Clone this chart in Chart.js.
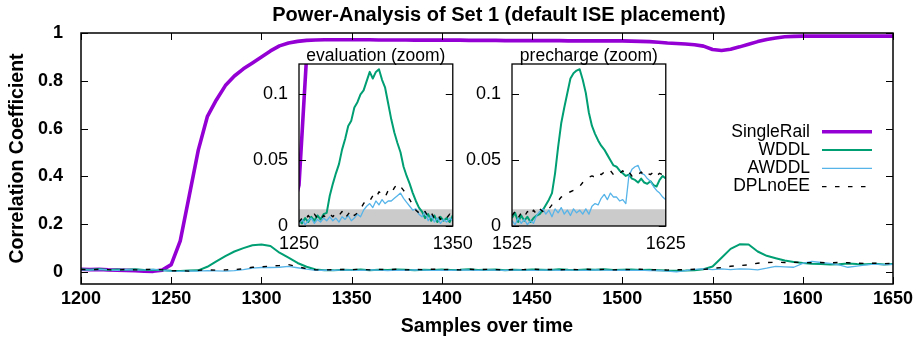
<!DOCTYPE html>
<html><head><meta charset="utf-8">
<script src="https://cdn.jsdelivr.net/npm/chart.js@4/dist/chart.umd.min.js"></script>
<style>
html,body{margin:0;padding:0;background:#fff;}
#wrap{position:relative;width:918px;height:346px;overflow:hidden;background:#fff;}
canvas{position:absolute;}
</style></head><body>
<div id="wrap">
<canvas id="mainC" width="918" height="346" style="left:0;top:0;width:918px;height:346px"></canvas>
<canvas id="evalC" width="250" height="220" style="left:230px;top:40px;width:250px;height:220px"></canvas>
<canvas id="preC" width="250" height="220" style="left:443px;top:40px;width:250px;height:220px"></canvas>
</div>
<script>
// ---------- texts ----------
const chartTitle = 'Power-Analysis of Set 1 (default ISE placement)';
const xAxisTitle = 'Samples over time';
const yAxisTitle = 'Correlation Coefficient';
const seriesNames = ['SingleRail', 'WDDL', 'AWDDL', 'DPLnoEE'];
const evalTitle = 'evaluation (zoom)';
const preTitle = 'precharge (zoom)';

// ---------- axes ----------
const mainXRange = [1200, 1650];
const mainYRange = [-0.05, 1];
const mainXTicks = [1200, 1250, 1300, 1350, 1400, 1450, 1500, 1550, 1600, 1650];
const mainYTicks = [0, 0.2, 0.4, 0.6, 0.8, 1];
const insetYRange = [0, 0.123];
const insetYTicks = [0, 0.05, 0.1];
const evalXRange = [1250, 1350];
const preXRange = [1525, 1625];
const noiseLevel = 0.0127;

// ---------- main series (samples 1200..1650, every 5) ----------
const mainStart = 1200, mainStep = 5;
const singleRail = [
 0.012,0.010,0.011,0.009,0.008,0.007,0.006,0.004,0.003,0.008,
 0.031,0.13,0.32,0.51,0.65,0.72,0.78,0.82,0.85,0.875,
 0.90,0.925,0.946,0.958,0.965,0.969,0.971,0.972,0.972,0.972,
 0.972,0.972,0.972,0.971,0.971,0.971,0.971,0.970,0.970,0.970,
 0.970,0.970,0.970,0.969,0.969,0.969,0.969,0.968,0.968,0.968,
 0.968,0.968,0.968,0.968,0.967,0.967,0.967,0.967,0.967,0.967,
 0.967,0.966,0.965,0.964,0.961,0.958,0.956,0.954,0.951,0.945,
 0.931,0.927,0.932,0.942,0.953,0.964,0.973,0.979,0.984,0.986,
 0.987,0.987,0.987,0.987,0.987,0.987,0.987,0.987,0.987,0.987,0.987];
const wddl = [
 0.012,0.010,0.013,0.009,0.011,0.010,0.012,0.009,0.010,0.008,
 0.005,0.004,0.006,0.007,0.022,0.045,0.067,0.086,0.100,0.112,
 0.115,0.109,0.081,0.060,0.038,0.022,0.011,0.008,0.007,0.010,
 0.009,0.011,0.008,0.010,0.009,0.011,0.010,0.008,0.010,0.009,
 0.011,0.009,0.010,0.012,0.009,0.010,0.011,0.008,0.010,0.009,
 0.011,0.010,0.009,0.012,0.010,0.009,0.011,0.010,0.012,0.009,
 0.010,0.011,0.009,0.010,0.008,0.006,0.005,0.006,0.008,0.012,
 0.023,0.060,0.097,0.116,0.115,0.086,0.068,0.058,0.048,0.042,
 0.038,0.035,0.034,0.032,0.033,0.036,0.034,0.033,0.035,0.032,0.034];
const awddl = [
 0.010,0.008,0.011,0.009,0.007,0.010,0.008,0.009,0.011,0.007,
 0.004,0.003,0.005,0.004,0.006,0.005,0.004,0.006,0.010,0.016,
 0.019,0.019,0.020,0.024,0.018,0.012,0.007,0.008,0.007,0.009,
 0.008,0.007,0.009,0.008,0.006,0.008,0.007,0.009,0.008,0.007,
 0.008,0.007,0.009,0.008,0.007,0.009,0.008,0.007,0.008,0.009,
 0.007,0.008,0.009,0.007,0.008,0.008,0.007,0.009,0.008,0.007,
 0.008,0.007,0.008,0.006,0.007,0.004,0.001,0.006,0.011,0.013,
 0.010,0.013,0.010,0.013,0.012,0.009,0.016,0.024,0.022,0.020,
 0.036,0.045,0.040,0.036,0.030,0.020,0.025,0.030,0.033,0.031,0.032];
const dplNoEE = [
 0.011,0.009,0.012,0.010,0.008,0.011,0.009,0.010,0.012,0.009,
 0.005,0.006,0.004,0.007,0.009,0.008,0.009,0.010,0.014,0.020,
 0.022,0.025,0.027,0.031,0.022,0.014,0.009,0.009,0.010,0.011,
 0.010,0.012,0.009,0.011,0.010,0.012,0.009,0.011,0.010,0.012,
 0.010,0.011,0.009,0.012,0.010,0.011,0.010,0.009,0.011,0.010,
 0.012,0.010,0.011,0.009,0.011,0.010,0.012,0.010,0.011,0.009,
 0.011,0.010,0.012,0.009,0.010,0.008,0.010,0.009,0.012,0.011,
 0.015,0.019,0.024,0.027,0.030,0.037,0.040,0.041,0.040,0.041,
 0.040,0.039,0.040,0.038,0.040,0.039,0.037,0.036,0.037,0.035,0.036];

// ---------- evaluation zoom (samples 1250..1350, every 2) ----------
const evalStart = 1250, insetStep = 2;
const evalWDDL = [
 0.004,0.002,0.006,0.003,0.007,0.004,0.008,0.005,0.009,0.010,
 0.023,0.032,0.040,0.047,0.058,0.066,0.076,0.080,0.090,0.094,
 0.100,0.103,0.110,0.117,0.112,0.117,0.119,0.111,0.105,0.093,
 0.081,0.071,0.063,0.056,0.045,0.038,0.032,0.025,0.019,0.014,
 0.011,0.006,0.009,0.004,0.008,0.003,0.007,0.004,0.006,0.003,0.008];
const evalAWDDL = [
 0.002,0.005,0.001,0.004,0.006,0.002,0.005,0.003,0.006,0.004,
 0.007,0.004,0.006,0.003,0.007,0.005,0.008,0.004,0.006,0.009,
 0.007,0.012,0.015,0.017,0.014,0.019,0.016,0.020,0.017,0.019,
 0.019,0.021,0.023,0.025,0.021,0.018,0.015,0.012,0.013,0.009,
 0.007,0.011,0.004,0.008,0.003,0.006,0.002,0.005,0.003,0.006,0.004];
const evalDPL = [
 0.003,0.006,0.004,0.008,0.005,0.009,0.006,0.004,0.008,0.006,
 0.009,0.007,0.010,0.008,0.011,0.006,0.009,0.012,0.008,0.010,
 0.013,0.017,0.020,0.019,0.023,0.021,0.026,0.024,0.022,0.027,
 0.025,0.029,0.032,0.030,0.027,0.024,0.020,0.016,0.012,0.010,
 0.008,0.011,0.007,0.010,0.006,0.009,0.005,0.008,0.006,0.009,0.007];

// ---------- precharge zoom (samples 1525..1625, every 2) ----------
const preStart = 1525;
const preWDDL = [
 0.006,0.010,0.003,0.008,0.004,0.007,0.003,0.006,0.008,0.009,
 0.012,0.016,0.020,0.025,0.040,0.060,0.078,0.090,0.101,0.112,
 0.116,0.118,0.119,0.111,0.101,0.086,0.076,0.070,0.065,0.061,
 0.058,0.054,0.050,0.046,0.045,0.042,0.040,0.038,0.039,0.036,
 0.035,0.033,0.036,0.033,0.032,0.034,0.031,0.030,0.035,0.038,0.036];
const preAWDDL = [
 0.004,0.001,0.006,0.002,0.005,0.001,0.004,0.002,0.008,0.011,
 0.013,0.009,0.012,0.007,0.013,0.010,0.014,0.009,0.012,0.008,
 0.013,0.010,0.012,0.009,0.013,0.009,0.015,0.017,0.016,0.021,
 0.024,0.020,0.025,0.022,0.022,0.019,0.020,0.017,0.038,0.043,
 0.045,0.046,0.040,0.039,0.036,0.034,0.030,0.027,0.025,0.022,0.020];
const preDPL = [
 0.008,0.011,0.006,0.010,0.007,0.011,0.008,0.012,0.009,0.013,
 0.011,0.014,0.013,0.016,0.017,0.019,0.022,0.023,0.025,0.026,
 0.027,0.029,0.030,0.033,0.035,0.037,0.038,0.037,0.040,0.039,
 0.041,0.040,0.042,0.039,0.041,0.040,0.042,0.039,0.041,0.038,
 0.040,0.039,0.041,0.038,0.040,0.039,0.041,0.038,0.040,0.039,0.041];

// ---------- styling ----------
const FONT = '"Liberation Sans", Arial, Helvetica, sans-serif';
Chart.defaults.font.family = FONT;
Chart.defaults.color = '#000';
const seriesStyle = [
  {color: '#9400d3', width: 3.6, dash: []},
  {color: '#009e73', width: 2.0, dash: []},
  {color: '#56b4e9', width: 1.3, dash: []},
  {color: '#000000', width: 1.4, dash: [4.5, 8.5]}
];

function xsFor(arr, start, step) { return arr.map((_, i) => start + step * i); }
function pts(xs, ys) { return ys.map((v, i) => ({x: xs[i], y: v})); }
function fmt(v) { return String(Math.round(v * 1000) / 1000); }

function lineDs(k, xs, ys, clip) {
  const s = seriesStyle[k];
  return {
    label: seriesNames[k], data: pts(xs, ys),
    borderColor: s.color, backgroundColor: s.color, borderWidth: s.width,
    borderDash: s.dash, pointRadius: 0, tension: 0, fill: false,
    borderJoinStyle: 'round', borderCapStyle: 'butt',
    order: 4 - k, clip: clip
  };
}

const framePlugin = {
  id: 'frame',
  beforeDraw(chart, args, o) {
    const a = chart.chartArea, ctx = chart.ctx;
    if (o.fill) { ctx.save(); ctx.fillStyle = o.fill; ctx.fillRect(a.left, a.top, a.right - a.left, a.bottom - a.top); ctx.restore(); }
  },
  afterDraw(chart, args, o) {
    const a = chart.chartArea, ctx = chart.ctx;
    const xs = chart.scales.x, ys = chart.scales.y;
    ctx.save();
    ctx.strokeStyle = '#000';
    ctx.lineWidth = 1;
    ctx.beginPath();
    (o.xTicks || []).forEach(v => {
      const p = Math.round(xs.getPixelForValue(v)) + 0.5;
      ctx.moveTo(p, a.bottom); ctx.lineTo(p, a.bottom - o.len);
      ctx.moveTo(p, a.top); ctx.lineTo(p, a.top + o.len);
    });
    (o.yTicks || []).forEach(v => {
      const p = Math.round(ys.getPixelForValue(v)) + 0.5;
      ctx.moveTo(a.left, p); ctx.lineTo(a.left + o.len, p);
      ctx.moveTo(a.right, p); ctx.lineTo(a.right - o.len, p);
    });
    ctx.stroke();
    ctx.lineWidth = o.borderWidth;
    ctx.strokeRect(a.left, a.top, a.right - a.left, a.bottom - a.top);
    if (o.title) {
      ctx.font = o.title.font; ctx.fillStyle = '#000';
      ctx.textAlign = 'center'; ctx.textBaseline = 'middle';
      const x = (a.left + a.right) / 2 + (o.title.dx || 0);
      ctx.fillText(o.title.text, x, a.top + o.title.dy);
    }
    ctx.restore();
  }
};

const legendPlugin = {
  id: 'sideLegend',
  afterDraw(chart, args, o) {
    const ctx = chart.ctx;
    ctx.save();
    chart.data.datasets.forEach((ds, i) => {
      const y = o.y + i * o.dy;
      ctx.font = o.font; ctx.fillStyle = '#000';
      ctx.textAlign = 'right'; ctx.textBaseline = 'middle';
      ctx.fillText(ds.label, o.textRight, y);
      ctx.strokeStyle = ds.borderColor; ctx.lineWidth = ds.borderWidth;
      ctx.setLineDash(ds.borderDash || []);
      ctx.beginPath(); ctx.moveTo(o.x1, y); ctx.lineTo(o.x2, y); ctx.stroke();
      ctx.setLineDash([]);
    });
    ctx.restore();
  }
};

const mainX = xsFor(singleRail, mainStart, mainStep);

// ---------- main chart ----------
new Chart(document.getElementById('mainC'), {
  type: 'line',
  data: { datasets: [
    lineDs(0, mainX, singleRail),
    lineDs(1, mainX, wddl),
    lineDs(2, mainX, awddl),
    lineDs(3, mainX, dplNoEE)
  ]},
  options: {
    responsive: false, animation: false, events: [],
    layout: { padding: {left: 0, right: 25, top: 33, bottom: 0} },
    plugins: {
      legend: {display: false}, tooltip: {enabled: false},
      frame: { xTicks: mainXTicks, yTicks: mainYTicks, len: 7, borderWidth: 1.5,
               title: {text: chartTitle, font: 'bold 20px ' + FONT, dy: -18, dx: 12} },
      sideLegend: { font: '17.5px ' + FONT, textRight: 810, x1: 822, x2: 872, y: 131.7, dy: 18.3 }
    },
    scales: {
      x: {
        type: 'linear', min: mainXRange[0], max: mainXRange[1],
        afterBuildTicks: s => { s.ticks = mainXTicks.map(v => ({value: v})); },
        afterFit: s => { s.height = 62; },
        ticks: { font: {size: 18, weight: 'bold'}, padding: 4.7, maxRotation: 0, autoSkip: false, callback: v => String(v) },
        grid: {display: false, drawTicks: false}, border: {display: false},
        title: { display: true, text: xAxisTitle, font: {size: 19.5, weight: 'bold'}, padding: {top: 0, bottom: 7.3} }
      },
      y: {
        type: 'linear', min: mainYRange[0], max: mainYRange[1],
        afterBuildTicks: s => { s.ticks = mainYTicks.map(v => ({value: v})); },
        afterFit: s => { s.width = 81; },
        ticks: { font: {size: 18, weight: 'bold'}, padding: 18, autoSkip: false, callback: v => fmt(v) },
        grid: {display: false, drawTicks: false}, border: {display: false},
        title: { display: true, text: yAxisTitle, font: {size: 19.5, weight: 'bold'}, padding: {top: 6.3, bottom: 0} }
      }
    }
  },
  plugins: [framePlugin, legendPlugin]
});

// ---------- inset charts ----------
function insetChart(id, xRange, xs, w, aw, dp, title, padRight) {
  const band = {
    label: '', data: [{x: xRange[0], y: noiseLevel}, {x: xRange[1], y: noiseLevel}],
    borderWidth: 0, pointRadius: 0, fill: 'origin', backgroundColor: '#cbcbcb',
    borderColor: 'rgba(0,0,0,0)', order: 10, clip: 0
  };
  return new Chart(document.getElementById(id), {
    type: 'line',
    data: { datasets: [
      lineDs(0, mainX, singleRail, 0),
      lineDs(1, xs, w, 0),
      lineDs(2, xs, aw, 0),
      lineDs(3, xs, dp, 0),
      band
    ]},
    options: {
      responsive: false, animation: false, events: [],
      layout: { padding: {left: 0, right: padRight, top: 24, bottom: 0} },
      plugins: {
        legend: {display: false}, tooltip: {enabled: false},
        frame: { fill: '#ffffff', xTicks: [], yTicks: insetYTicks, len: 7, borderWidth: 1.3,
                 title: {text: title, font: '17.5px ' + FONT, dy: -8} }
      },
      scales: {
        x: {
          type: 'linear', min: xRange[0], max: xRange[1],
          afterBuildTicks: s => { s.ticks = xRange.map(v => ({value: v})); },
          afterFit: s => { s.height = 34; },
          ticks: { font: {size: 18}, padding: 7.2, maxRotation: 0, autoSkip: false, callback: v => String(v) },
          grid: {display: false, drawTicks: false}, border: {display: false}
        },
        y: {
          type: 'linear', min: insetYRange[0], max: insetYRange[1],
          afterBuildTicks: s => { s.ticks = insetYTicks.map(v => ({value: v})); },
          afterFit: s => { s.width = 69; },
          ticks: { font: {size: 18}, padding: 11, autoSkip: false, callback: v => fmt(v) },
          grid: {display: false, drawTicks: false}, border: {display: false}
        }
      }
    },
    plugins: [framePlugin]
  });
}

insetChart('evalC', evalXRange, xsFor(evalWDDL, evalStart, insetStep), evalWDDL, evalAWDDL, evalDPL, evalTitle, 24);
insetChart('preC', preXRange, xsFor(preWDDL, preStart, insetStep), preWDDL, preAWDDL, preDPL, preTitle, 26);
</script>
</body></html>
